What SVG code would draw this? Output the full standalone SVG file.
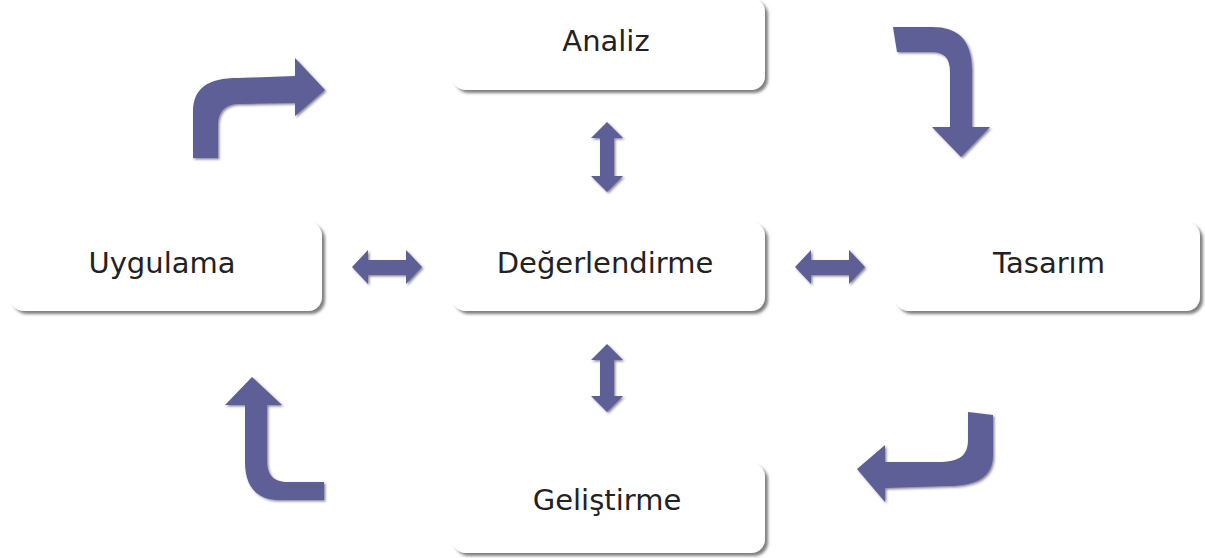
<svg xmlns="http://www.w3.org/2000/svg" width="1205" height="558" viewBox="0 0 1205 558">
<defs>
<filter id="boxShadow" x="-10%" y="-20%" width="130%" height="150%">
<feDropShadow dx="3" dy="3" stdDeviation="1.6" flood-color="#555" flood-opacity="0.75"/>
</filter>
<filter id="arrowShadow" x="-20%" y="-20%" width="150%" height="150%">
<feDropShadow dx="1.5" dy="1.5" stdDeviation="1" flood-color="#2a2a44" flood-opacity="0.55"/>
</filter>
</defs>
<style>
.box{fill:#ffffff;filter:url(#boxShadow)}
.lbl{font-family:"DejaVu Sans","Verdana",sans-serif;font-size:29px;fill:#222222;text-anchor:middle}
.arr{fill:#5f5f97;filter:url(#arrowShadow)}
</style>
<rect width="1205" height="558" fill="#ffffff"/>
<g id="node-analiz">
<rect class="box" x="452" y="-2" width="313" height="92" rx="14"/>
<text class="lbl" x="606" y="51">Analiz</text>
</g>
<g id="node-uygulama">
<rect class="box" x="10" y="222" width="312" height="89" rx="14"/>
<text class="lbl" x="162" y="273">Uygulama</text>
</g>
<g id="node-degerlendirme">
<rect class="box" x="452" y="222" width="313" height="89" rx="14"/>
<text class="lbl" x="605" y="273">Değerlendirme</text>
</g>
<g id="node-tasarim">
<rect class="box" x="895" y="222" width="305" height="89" rx="14"/>
<text class="lbl" x="1049" y="273">Tasarım</text>
</g>
<g id="node-gelistirme">
<rect class="box" x="452" y="463" width="313" height="90" rx="14"/>
<text class="lbl" x="607" y="510">Geliştirme</text>
</g>
<g id="connectors">
<path class="arr" d="M893,27 L932,27 C958,27 972,40 972,70 L972,127 L990,127 L961,157 L932,127 L950,127 L950,72 C950,58 944,52 932,52 L897,52 Z"/>
<path class="arr" d="M193,158 L193,112 C193,88 208,78 238,78 L295,76 L295,58 L325,90 L295,116 L295,103 L240,104 C224,104 218,112 218,126 L218,158 Z"/>
<path class="arr" d="M968,412 L993,415 L993,455 C993,476 978,486 948,486 L885,488 L885,502 L857,469 L885,445 L885,462 L938,462 C960,462 968,455 968,440 Z"/>
<path class="arr" d="M324,482 L324,500 L280,500 C258,500 245,488 245,462 L245,405 L225,405 L252,377 L282,405 L267,405 L267,460 C267,476 274,482 288,482 Z"/>
<path class="arr" d="M352,267 L368,250 L368,260 L406,260 L406,250 L422,267 L406,284 L406,275 L368,275 L368,284 Z"/>
<path class="arr" d="M795,267 L811,250 L811,260 L849,260 L849,250 L865,267 L849,284 L849,275 L811,275 L811,284 Z"/>
<path class="arr" d="M607,122 L623,138 L614,138 L614,176 L623,176 L607,192 L591,176 L600,176 L600,138 L591,138 Z"/>
<path class="arr" d="M607,344 L623,360 L614,360 L614,396 L623,396 L607,412 L591,396 L600,396 L600,360 L591,360 Z"/>
</g>
</svg>
